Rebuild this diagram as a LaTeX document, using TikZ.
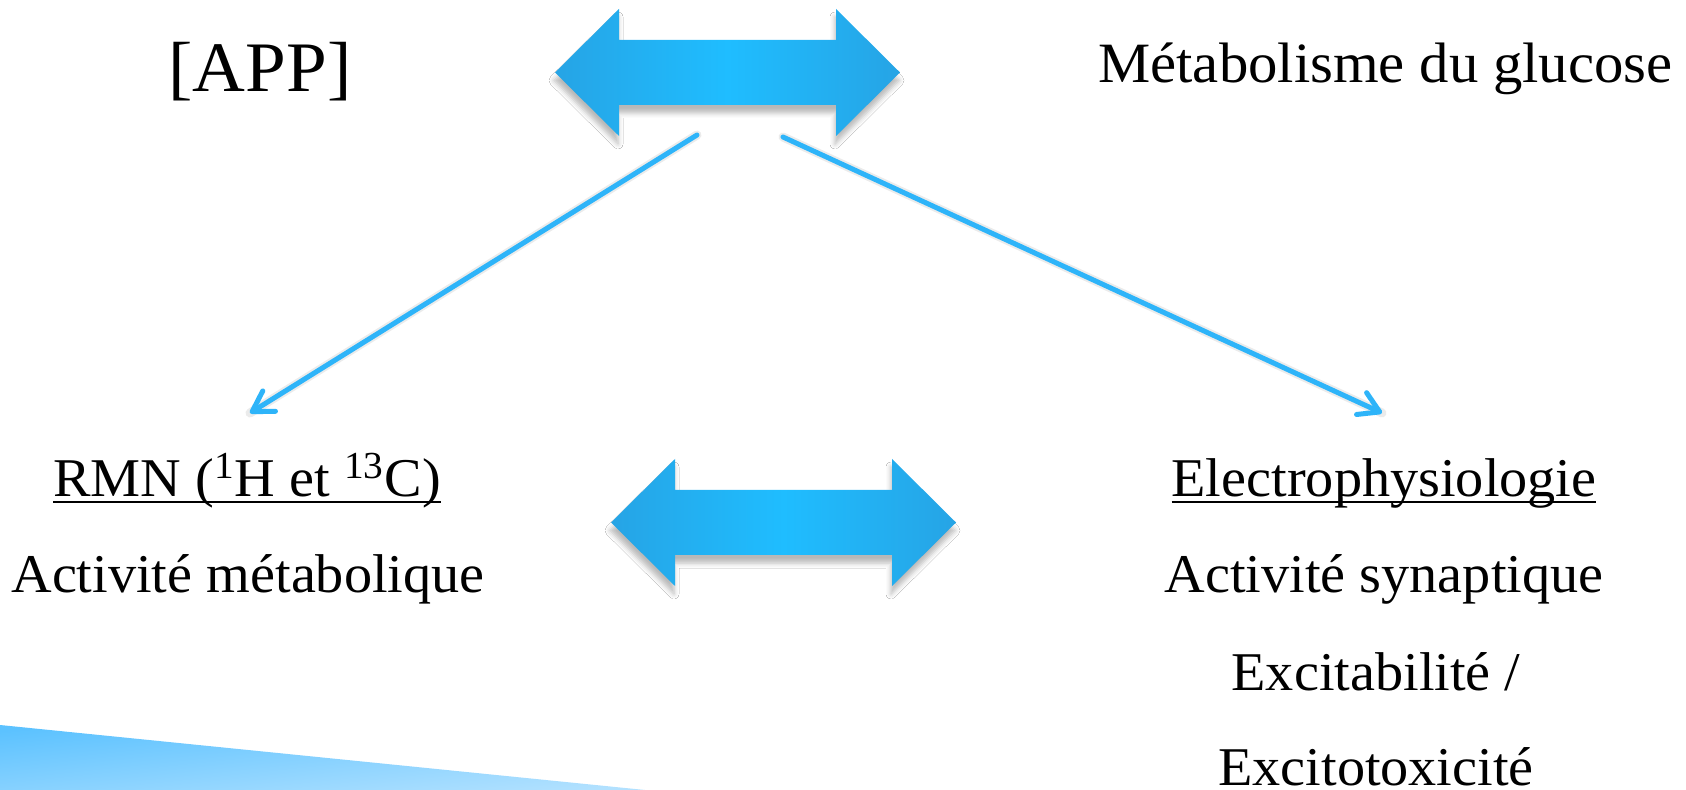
\documentclass[tikz,border=0pt]{standalone}
\usepackage{fontspec}
\setmainfont[FakeStretch=1.03]{Liberation Serif}
\usetikzlibrary{arrows.meta,shadows.blur}
\definecolor{arrlight}{HTML}{1FBDFF}
\definecolor{arrdark}{HTML}{26A4E5}
\definecolor{linecol}{HTML}{2EB4F9}
\definecolor{bandtop}{HTML}{5CC2FF}
\definecolor{bandbot}{HTML}{B2E1FF}
\newcommand\myul[1]{\setbox0\hbox{#1}\rlap{\rule[-3pt]{\wd0}{1pt}}\box0}
\tikzset{
  lbl/.style={inner sep=0pt, anchor=base, font=\fontsize{27.3}{30}\selectfont},
  conn/.style={draw=linecol, line width=2.5pt, line cap=round, line join=round,
    -{Straight Barb[length=10pt,width=12pt,line cap=round,line join=round]}},
  connshadow/.style={draw=black, opacity=0.08, line width=4.5pt, line cap=round},
  arrowfill/.style={left color=arrdark, right color=arrdark, middle color=arrlight,
    blur shadow={shadow xshift=-0.5pt, shadow yshift=-4pt, shadow blur radius=2.5pt, shadow opacity=28}},
  dblarrow/.pic={
    \path[arrowfill] (-172.5,0) -- (-108.5,-63.5) -- (-108.5,-32.5) -- (108.5,-32.5)
      -- (108.5,-63.5) -- (172.5,0) -- (108.5,63.5) -- (108.5,32.5) -- (-108.5,32.5)
      -- (-108.5,63.5) -- cycle;
  }
}
\begin{document}
\begin{tikzpicture}[x=0.5pt,y=-0.5pt]
\useasboundingbox[fill=white] (0,0) rectangle (1686,790);
% bottom-left band
\shade[top color=bandtop, bottom color=bandbot, shading angle=6]
  (0,725) -- (645,790) -- (0,790) -- cycle;
% double arrows
\pic (toparrow) at (727.5,72.5) {dblarrow};
\pic (midarrow) at (783.5,522.5) {dblarrow};
% texts
\node[lbl, font=\fontsize{35.5}{40}\selectfont] (app) at (260,92) {[APP]};
\node[lbl, anchor=base west, font=\fontsize{28.5}{32}\selectfont] (gluc) at (1098,83) {Métabolisme du glucose};
\node[lbl] (rmn) at (247,497) {\myul{RMN (\textsuperscript{1}H et \textsuperscript{13}C)}};
\node[lbl] (actm) at (248,593) {Activité métabolique};
\node[lbl] (elec) at (1384,497) {\myul{Electrophysiologie}};
\node[lbl] (acts) at (1384,593) {Activité synaptique};
\node[lbl] (exc) at (1376,690) {Excitabilité /};
\node[lbl] (exct) at (1376,785) {Excitotoxicité};
% connectors
\coordinate (l1s) at (697,135);
\coordinate (l1e) at (250,413);
\coordinate (r1s) at (783,137);
\coordinate (r1e) at (1382,413);
\draw[connshadow, yshift=-3pt] (l1s) -- (l1e);
\draw[connshadow, yshift=-3pt] (r1s) -- (r1e);
\draw[conn] (l1s) -- (l1e);
\draw[conn] (r1s) -- (r1e);
\end{tikzpicture}
\end{document}
